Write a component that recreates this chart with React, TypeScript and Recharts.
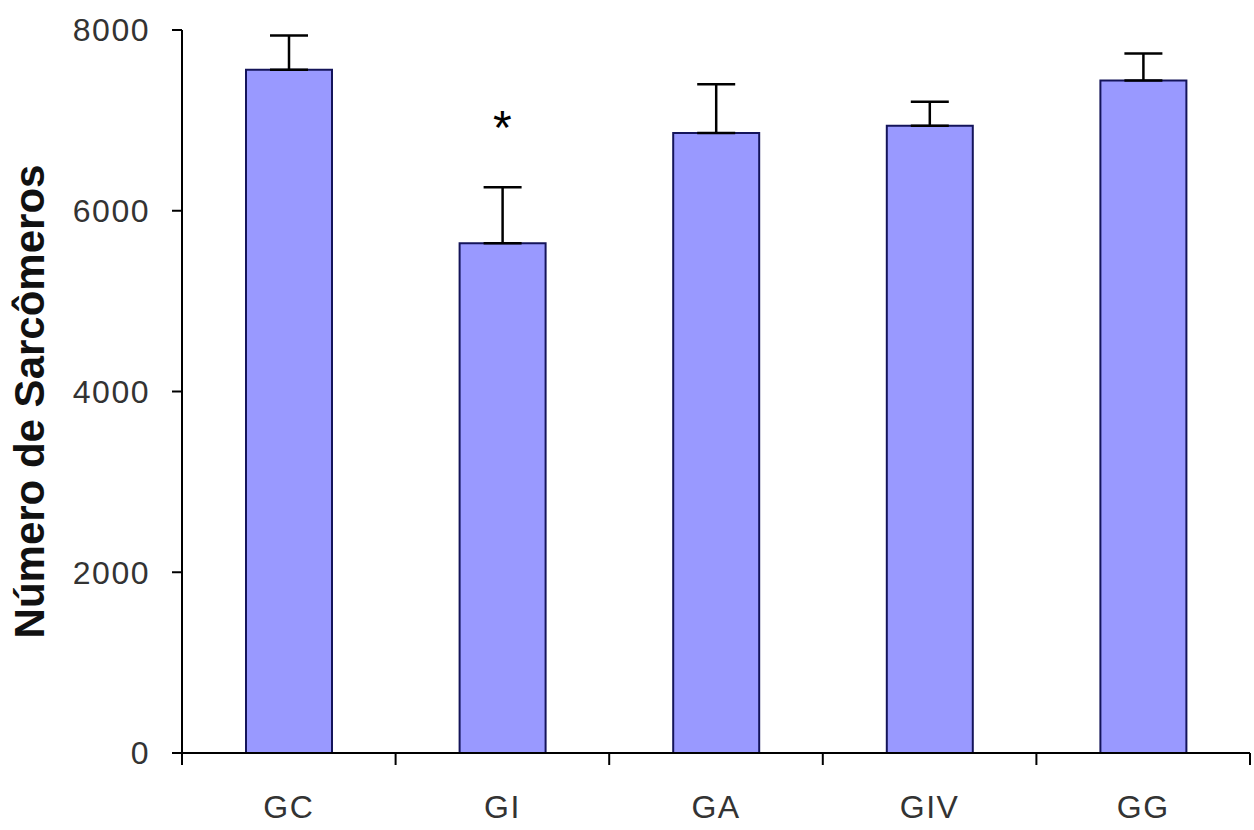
import { ComposedChart, Bar, XAxis, YAxis, ErrorBar, ReferenceDot } from "recharts";

const categories = ["GC", "GI", "GA", "GIV", "GG"];
const means = [7560, 5640, 6860, 6940, 7440];
const errors = [380, 620, 540, 265, 300];
const yTicks = [0, 2000, 4000, 6000, 8000];
const sigCategory = "GI";
const sigY = 7000;

const W = 1254;
const H = 830;
const margin = { top: 30, right: 4, left: 0, bottom: 0 };
const Y_AXIS_W = 182;
const X_AXIS_H = 77;
const band = (W - margin.left - margin.right - Y_AXIS_W) / categories.length;

const data = categories.map((c, i) => ({
  name: c,
  value: means[i],
  err: [0, errors[i]],
}));

const font = "'Liberation Sans', Arial, sans-serif";

function XTick(props: any) {
  const { x, y, payload, index } = props;
  const last = index === categories.length - 1;
  return (
    <g>
      <line x1={x - band / 2} x2={x - band / 2} y1={y} y2={y + 12} stroke="#000" strokeWidth={2} />
      {last && <line x1={x + band / 2} x2={x + band / 2} y1={y} y2={y + 12} stroke="#000" strokeWidth={2} />}
      <text x={x} y={y + 65} textAnchor="middle" fontFamily={font} fontSize={32} fill="#333" letterSpacing={1.5}>
        {payload.value}
      </text>
    </g>
  );
}

function YLabel(props: any) {
  const vb = props.viewBox;
  const cy = vb.y + vb.height / 2 + 10;
  return (
    <text
      x={29}
      y={cy}
      transform={`rotate(-90, 29, ${cy})`}
      textAnchor="middle"
      dominantBaseline="central"
      fontFamily={font}
      fontWeight="bold"
      fontSize={42}
      fill="#111"
    >
      Número de Sarcômeros
    </text>
  );
}

export default function App() {
  return (
    <div style={{ position: "absolute", left: 0, top: 0, width: W, height: H, background: "#fff" }}>
      <ComposedChart width={W} height={H} data={data} margin={margin}>
        <XAxis
          dataKey="name"
          height={X_AXIS_H}
          tickLine={false}
          tickSize={0}
          tickMargin={0}
          tick={<XTick />}
          axisLine={{ stroke: "#000", strokeWidth: 2 }}
          interval={0}
        />
        <YAxis
          width={Y_AXIS_W}
          domain={[0, 8000]}
          ticks={yTicks}
          tickSize={10}
          tickMargin={22}
          tickLine={{ stroke: "#000", strokeWidth: 2 }}
          axisLine={{ stroke: "#000", strokeWidth: 2 }}
          tick={{ fontFamily: font, fontSize: 32, fill: "#333", letterSpacing: 1.5 }}
          label={{ content: (p: any) => <YLabel {...p} /> }}
        />
        <Bar dataKey="value" fill="#9999ff" stroke="#14145a" strokeWidth={2} barSize={86} isAnimationActive={false}>
          <ErrorBar dataKey="err" width={19} stroke="#000" strokeWidth={2.5} isAnimationActive={false} />
        </Bar>
        <ReferenceDot
          x={sigCategory}
          y={sigY}
          r={0}
          shape={(p: any) => (
            <text x={p.cx} y={p.cy + 24} textAnchor="middle" fontFamily={font} fontSize={48} fill="#000">
              *
            </text>
          )}
        />
      </ComposedChart>
    </div>
  );
}
